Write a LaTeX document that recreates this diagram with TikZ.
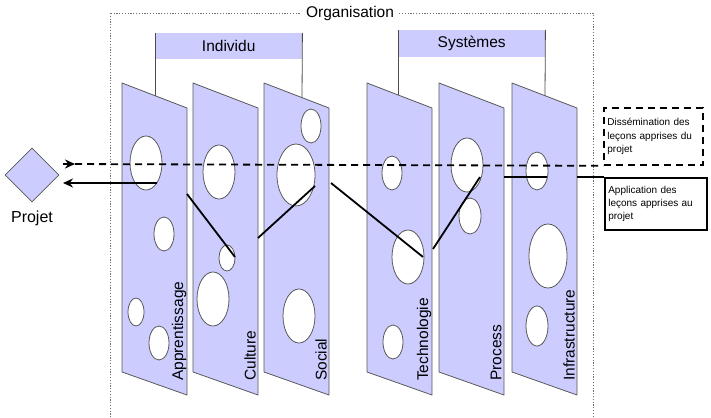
\documentclass[tikz,border=0pt]{standalone}
\usepackage{fontspec}
\setmainfont{Liberation Sans}
\usetikzlibrary{shapes.geometric,arrows.meta,decorations.markings}
\definecolor{lav}{HTML}{CCCCFF}

\begin{document}
\begin{tikzpicture}[x=1pt, y=-1pt,
	panel/.style={draw=black!65, fill=lav, line width=0.8pt, line join=round},
	hole/.style={draw=black!65, fill=white, line width=0.8pt},
	frame/.style={draw=black!70, line width=0.8pt},
	link/.style={black, line width=1.8pt},
	flow/.style={black, line width=1.8pt, dash pattern=on 7pt off 5pt},
	head/.style={fill=lav, inner sep=0pt, anchor=north west, font=\fontsize{15.5}{18}\selectfont},
	plabel/.style={rotate=90, anchor=west, inner sep=0pt, font=\fontsize{15.5}{18}\selectfont},
	note/.style={align=left, anchor=north west, inner xsep=3.5pt, font=\fontsize{10}{13.3}\selectfont}]
	\useasboundingbox (0,0) rectangle (711,417);

	% organisation
	\draw [black!55, line width=0.8pt, dash pattern=on 1.2pt off 1.6pt] (110,13) rectangle (593,420);
	\node [fill=white, inner xsep=5pt, font=\fontsize{15.5}{18}\selectfont] (org) at (350,13) {Organisation};

	% groups
	\node [head, minimum width=147, minimum height=26] (indiv) at (155,33) {Individu};
	\node [head, minimum width=147, minimum height=27] (sys) at (398,30) {Systèmes};
	\draw [frame] (indiv.north west) -- (155,96);
	\draw [frame] (indiv.north east) -- (302,98);
	\draw [frame] (sys.north west) -- (398,95);
	\draw [frame] (sys.north east) -- (545,96);

	% panels
	\draw [panel] (122,83) -- (187,108) -- (187,395) -- (122,372) -- cycle;
	\draw [panel] (193,83) -- (258,108) -- (258,395) -- (193,372) -- cycle;
	\draw [panel] (264,83) -- (329,108) -- (329,395) -- (264,372) -- cycle;
	\draw [panel] (367,83) -- (432,108) -- (432,395) -- (367,372) -- cycle;
	\draw [panel] (439,83) -- (504,108) -- (504,395) -- (439,372) -- cycle;
	\draw [panel] (512,83) -- (577,108) -- (577,395) -- (512,372) -- cycle;

	% holes
	\draw [hole] (146,163) ellipse [x radius=16, y radius=27];
	\draw [hole] (164,234) ellipse [x radius=10, y radius=17];
	\draw [hole] (136,312) ellipse [x radius=8, y radius=14];
	\draw [hole] (159,343) ellipse [x radius=10, y radius=17];
	\draw [hole] (219,172) ellipse [x radius=16, y radius=27];
	\draw [hole] (227,258) ellipse [x radius=8, y radius=13];
	\draw [hole] (213,299) ellipse [x radius=16, y radius=27];
	\draw [hole] (311,126) ellipse [x radius=10, y radius=17];
	\draw [hole] (296,175) ellipse [x radius=19, y radius=31];
	\draw [hole] (299,316) ellipse [x radius=16, y radius=27];
	\draw [hole] (392,173) ellipse [x radius=10, y radius=17];
	\draw [hole] (408,257) ellipse [x radius=16, y radius=27];
	\draw [hole] (393,342) ellipse [x radius=10, y radius=17];
	\draw [hole] (467,165) ellipse [x radius=16, y radius=27];
	\draw [hole] (470,216) ellipse [x radius=11, y radius=18];
	\draw [hole] (537,171) ellipse [x radius=11, y radius=19];
	\draw [hole] (548,256) ellipse [x radius=19, y radius=32];
	\draw [hole] (537,326) ellipse [x radius=11, y radius=20];

	% label
	\node [plabel] (appr) at (179,381) {Apprentissage};
	\node [plabel] (cult) at (250,381) {Culture};
	\node [plabel] (soc) at (321,381) {Social};
	\node [plabel] (tech) at (424,381) {Technologie};
	\node [plabel] (proc) at (496,381) {Process};
	\node [plabel] (infra) at (569,381) {Infrastructure};

	% projet
	\node [diamond, draw=black!65, fill=lav, line width=0.8pt, minimum width=54, minimum height=54, inner sep=0pt] (projet) at (32,175) {};
	\node [font=\fontsize{16}{18}\selectfont] (projlbl) at (32,218) {Projet};

	% notes
	\node [note, draw=black, line width=1.8pt, dash pattern=on 7pt off 5pt, text width=92pt, minimum height=57] (dissem) at (603,107) {Dissémination des\\leçons apprises du\\projet};
	\node [note, draw=black, line width=1.6pt, text width=95pt, minimum height=52] (applic) at (604,177) {Application des\\leçons apprises au\\projet};

	% dashed path
	\coordinate (din) at (63,164);
	\draw [flow, postaction={decorate}, decoration={markings, mark=at position 12pt with {\arrow[solid]{Stealth[length=10pt, width=9pt]}}}] (din) -- (dissem.south west);

	% solid path
	\coordinate (s1) at (577,177);
	\coordinate (s2) at (547,177);
	\coordinate (s3) at (504,177);
	\coordinate (s4) at (480,177);
	\coordinate (s5) at (433,249);
	\coordinate (s6) at (423,257);
	\coordinate (s7) at (331,183);
	\coordinate (s8) at (315,186);
	\coordinate (s9) at (258,238);
	\coordinate (s10) at (235,257);
	\coordinate (s11) at (187,194);
	\coordinate (s12) at (157,183);
	\coordinate (sout) at (63,183);
	\draw [link] (applic.north west) -- (s1);
	\draw [link] (s2) -- (s3);
	\draw [link] (s4) -- (s5);
	\draw [link] (s6) -- (s7);
	\draw [link] (s8) -- (s9);
	\draw [link] (s10) -- (s11);
	\draw [link, -{Stealth[length=10pt, width=9pt]}] (s12) -- (sout);
\end{tikzpicture}
\end{document}
